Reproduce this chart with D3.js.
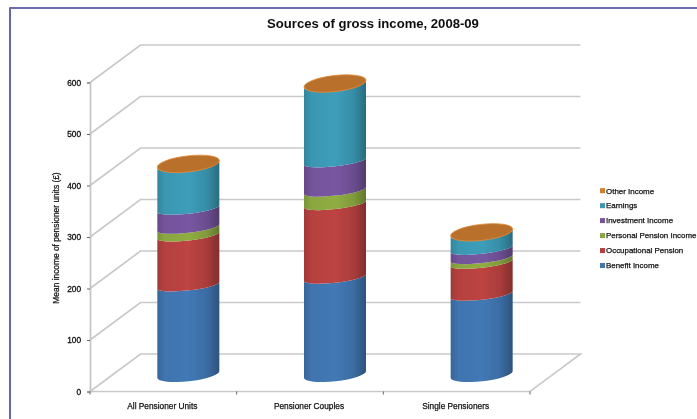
<!DOCTYPE html>
<html><head><meta charset="utf-8">
<script src="https://cdn.jsdelivr.net/npm/d3@7"></script>
<style>html,body{margin:0;padding:0;background:#fff;overflow:hidden}svg{display:block}text{font-family:"Liberation Sans",Arial,sans-serif;fill:#111}</style>
</head><body><div id="chart"></div>
<script>
const title = "Sources of gross income, 2008-09";
const yTitle = "Mean income of pensioner units (£)";
const categories = ["All Pensioner Units","Pensioner Couples","Single Pensioners"];
const seriesNames = ["Benefit Income","Occupational Pension","Personal Pension Income","Investment Income","Earnings","Other Income"];
const seriesColors = ["#3f74ae","#b5413f","#8aa63f","#73539a","#3a97b2","#d07f30"];
const benefit = [173,188,155];
const occupational = [97,143,62];
const personal = [15,26,9];
const investment = [37,57,18];
const earnings = [85,149,30];
const other = [2,2,2];
const yTicks = [0,100,200,300,400,500,600];

const W=697,H=419;
const svg=d3.select("#chart").append("svg").attr("width",W).attr("height",H);
const defs=svg.append("defs");
const blur=defs.append("filter").attr("id","soft").attr("filterUnits","userSpaceOnUse").attr("x",0).attr("y",0).attr("width",W).attr("height",H);
blur.append("feGaussianBlur").attr("stdDeviation",0.45);

// frame
svg.append("path").attr("d","M10,419V8").attr("fill","none").attr("stroke","#4a4aa2").attr("stroke-width",1.7);
svg.append("path").attr("d","M9.2,8H697").attr("fill","none").attr("stroke","#6c6cb0").attr("stroke-width",1.8);

const y=d3.scaleLinear().domain([0,600]).range([391.5,82.5]);
const x=d3.scaleBand().domain(categories).range([90,530]);
const depthX=50.5,depthY=37.5,midX=25,midY=17;

const root=svg.append("g").attr("filter","url(#soft)");
const grid=root.append("g").attr("fill","none").attr("stroke","#c9c9c9").attr("stroke-width",1.7);
yTicks.forEach(t=>{
  if(t===0) return;
  grid.append("path").attr("d",d3.line()([[90,y(t)],[90+depthX,y(t)-depthY],[530+depthX,y(t)-depthY]]));
});
grid.append("path").attr("d",d3.line().curve(d3.curveLinearClosed)([[90,y(0)],[90+depthX,y(0)-depthY],[530+depthX,y(0)-depthY],[530,y(0)]]));

// axes
const ax=root.append("g").attr("transform","translate(90,0)").call(d3.axisLeft(y).tickValues(yTicks).tickSize(3).tickPadding(6).tickFormat(d3.format("d")));
ax.select(".domain").attr("stroke","#c4c4c4").attr("stroke-width",1.7);
ax.selectAll(".tick line").attr("stroke","#666");
ax.selectAll("text").attr("font-size",8.3).attr("stroke","#111").attr("stroke-width",0.3).style("font-family","'Liberation Sans',Arial,sans-serif").attr("fill","#111");
const bx=root.append("g").attr("transform","translate(0,391.5)");
categories.map(c=>x(c)).concat([530]).forEach(px=>{
  bx.append("line").attr("x1",px).attr("x2",px).attr("y1",0).attr("y2",3).attr("stroke","#666");
});
categories.forEach(c=>{
  root.append("text").attr("x",x(c)+x.bandwidth()/2-1).attr("y",408.5).attr("text-anchor","middle").attr("font-size",8.3).attr("stroke","#111").attr("stroke-width",0.25).text(c);
});

// cylinders
const rx=31.2,ryTop=8,ryBand=5,ryBase=6.8,tilt=-6.5;
const rad=-tilt*Math.PI/180;
const dx=rx*Math.cos(rad),dy=rx*Math.sin(rad);
const shade=(id,col)=>{
  const g=defs.append("linearGradient").attr("id",id).attr("x1","0").attr("x2","1").attr("y1","0").attr("y2","0");
  const c=d3.color(col);
  [[0,c.darker(0.35)],[0.12,c],[0.5,c.brighter(0.12)],[0.8,c.darker(0.2)],[1,c.darker(0.95)]].forEach(([o,k])=>g.append("stop").attr("offset",o).attr("stop-color",k.formatHex()));
};
seriesColors.forEach((c,i)=>shade("g"+i,c));
const stackData=[benefit,occupational,personal,investment,earnings,other];
categories.forEach((c,ci)=>{
  const cx=x(c)+x.bandwidth()/2+midX;
  let cum=0;
  stackData.forEach((s,si)=>{
    const y0=y(cum)-midY; cum+=s[ci]; const y1=y(cum)-midY;
    const L=cx-dx,R=cx+dx;
    const r0=si===0?ryBase:ryBand, r1=si===stackData.length-1?ryTop:ryBand;
    const d=`M${L},${y0+dy}A${rx},${r0} ${tilt} 0 0 ${R},${y0-dy}L${R},${y1-dy}A${rx},${r1} ${tilt} 0 1 ${L},${y1+dy}Z`;
    root.append("path").attr("d",d).attr("fill",`url(#g${si})`);
    if(si===stackData.length-1){
      root.append("ellipse").attr("cx",cx).attr("cy",y1).attr("rx",rx).attr("ry",ryTop)
        .attr("transform",`rotate(${tilt} ${cx} ${y1})`).attr("fill","#b9702b").attr("stroke","#e08a3a").attr("stroke-width",0.8);
    }
  });
});

// legend
const legY=d3.scalePoint().domain(seriesNames.slice().reverse()).range([190.7,265.5]);
seriesNames.forEach((n,i)=>{
  root.append("rect").attr("x",600).attr("y",legY(n)-2.5).attr("width",5).attr("height",5).attr("fill",seriesColors[i]);
  root.append("text").attr("x",606).attr("y",legY(n)+2.8).attr("font-size",7.95).attr("stroke","#111").attr("stroke-width",0.25).text(n);
});

root.append("text").attr("transform","translate(59,238) rotate(-90)").attr("text-anchor","middle").attr("font-size",8.4).attr("stroke","#111").attr("stroke-width",0.25).text(yTitle);
root.append("text").attr("x",373).attr("y",28).attr("text-anchor","middle").attr("font-size",13.1).attr("font-weight",700).text(title);
</script></body></html>
